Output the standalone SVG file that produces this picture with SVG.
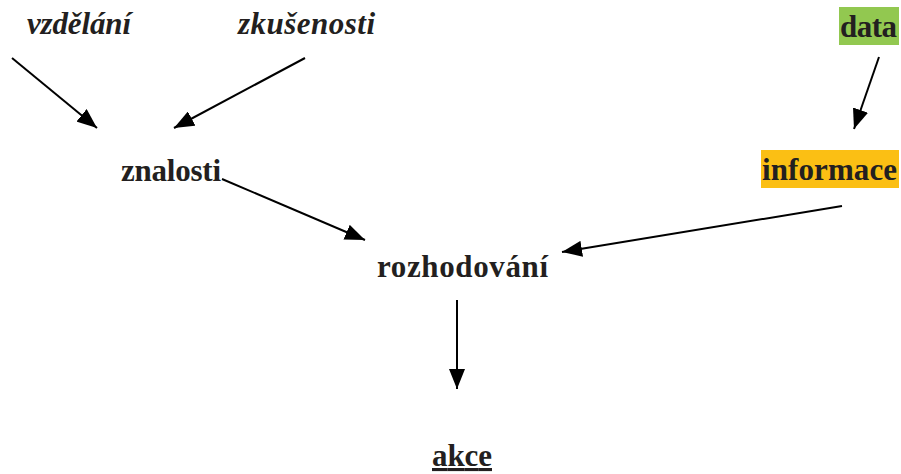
<svg xmlns="http://www.w3.org/2000/svg" width="901" height="474" viewBox="0 0 901 474">
  <defs>
    <marker id="head" markerUnits="userSpaceOnUse" markerWidth="22" markerHeight="16" refX="20" refY="8" orient="auto">
      <path d="M0,0 L20,8 L0,16 Z" fill="#000"/>
    </marker>
    <style>
      .lbl { font-family: "Liberation Serif", "Times New Roman", serif; font-weight: bold; font-size: 31px; fill: #231f20; }
      .it { font-style: italic; }
      .edge { stroke: #000; stroke-width: 2; fill: none; marker-end: url(#head); }
    </style>
  </defs>
  <rect width="901" height="474" fill="#fff"/>

  <!-- labels -->
  <g id="vzdelani"><text class="lbl it" x="27" y="34" textLength="104">vzdělání</text></g>
  <g id="zkusenosti"><text class="lbl it" x="238" y="34" textLength="137">zkušenosti</text></g>
  <g id="data">
    <rect x="839" y="7" width="60" height="38" fill="#92c850"/>
    <text class="lbl" x="840" y="37" textLength="57">data</text>
  </g>
  <g id="informace">
    <rect x="761" y="150" width="138" height="38" fill="#fbbf14"/>
    <text class="lbl" x="762" y="180" textLength="135">informace</text>
  </g>
  <g id="znalosti"><text class="lbl" x="121" y="181" textLength="100">znalosti</text></g>
  <g id="rozhodovani"><text class="lbl" x="377" y="277" textLength="171">rozhodování</text></g>
  <g id="akce"><text class="lbl" x="432" y="466" textLength="60" text-decoration="underline">akce</text></g>

  <!-- arrows -->
  <g id="connectors">
    <line class="edge" x1="12" y1="58" x2="97" y2="128"/>
    <line class="edge" x1="305" y1="58" x2="174" y2="128"/>
    <line class="edge" x1="879" y1="57" x2="854" y2="129"/>
    <line class="edge" x1="222" y1="179" x2="365" y2="240"/>
    <line class="edge" x1="842" y1="206" x2="562" y2="252"/>
    <line class="edge" x1="457" y1="300" x2="457" y2="389"/>
  </g>
</svg>
